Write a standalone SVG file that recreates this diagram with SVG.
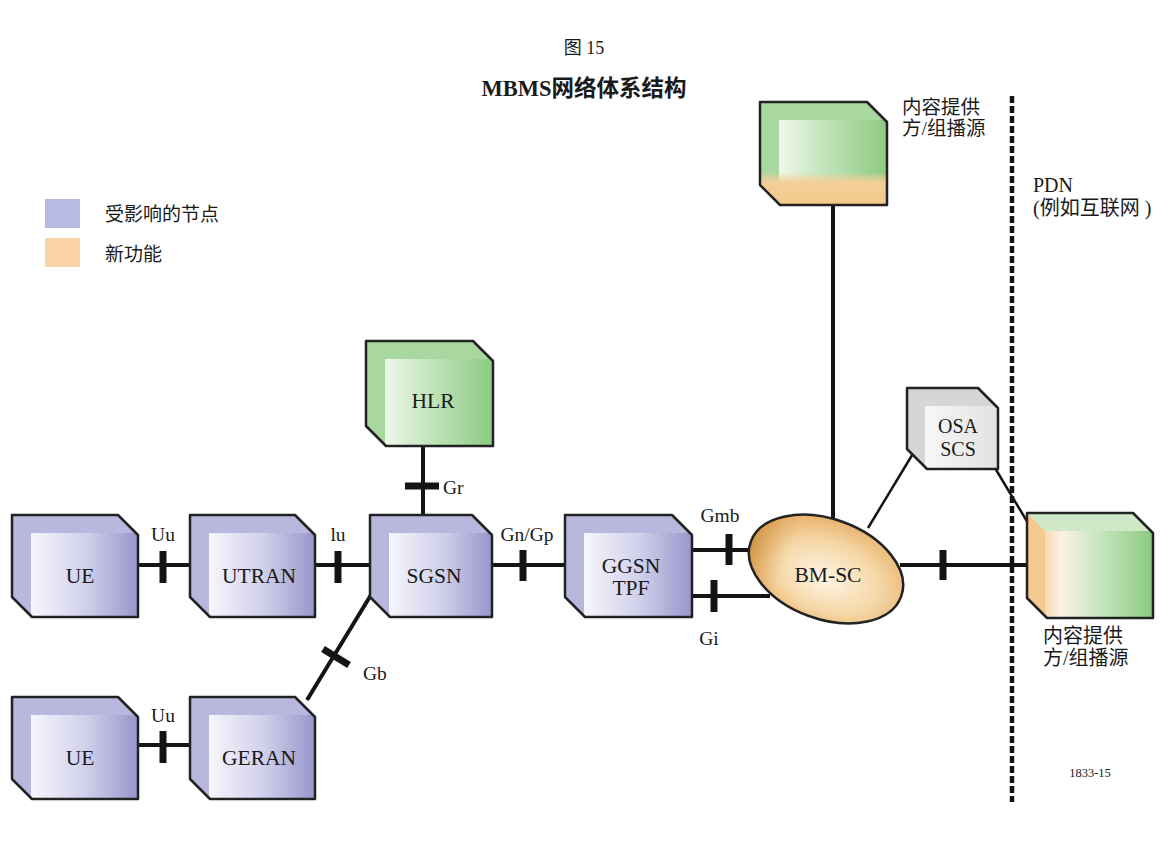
<svg xmlns="http://www.w3.org/2000/svg" width="1169" height="841" viewBox="0 0 1169 841">
<defs>
<style>
.t{font-family:"Liberation Serif","Noto Sans CJK SC",serif;fill:#1a1a1a}
.nl{font-size:21.5px;text-anchor:middle}
.il{font-size:19.5px}
.ol{fill:none;stroke:#222;stroke-width:2.5;stroke-linejoin:round}
.ln{stroke:#141414;stroke-width:4;fill:none}
.tk{stroke:#141414;stroke-width:7;fill:none}
.thin{stroke:#141414;stroke-width:2.5;fill:none}
</style>
<linearGradient id="gP" x1="0" y1="0" x2="1" y2="0">
<stop offset="0" stop-color="#f6f6fc"/><stop offset="0.5" stop-color="#d2d1ec"/><stop offset="1" stop-color="#9896cb"/>
</linearGradient>
<linearGradient id="gG" x1="0" y1="0" x2="1" y2="0">
<stop offset="0" stop-color="#eef8ea"/><stop offset="0.45" stop-color="#bfe3b7"/><stop offset="1" stop-color="#8cca82"/>
</linearGradient>
<linearGradient id="gR" x1="0" y1="0" x2="1" y2="0">
<stop offset="0" stop-color="#f6dcb2"/><stop offset="0.15" stop-color="#fbf2e2"/><stop offset="0.45" stop-color="#cde9c6"/><stop offset="1" stop-color="#8bca81"/>
</linearGradient>
<linearGradient id="gO" x1="0" y1="0" x2="0" y2="1">
<stop offset="0" stop-color="#f5cf98" stop-opacity="0"/><stop offset="0.3" stop-color="#f5cf98" stop-opacity="0.95"/><stop offset="1" stop-color="#f3c88c"/>
</linearGradient>
<linearGradient id="gS" x1="0" y1="0" x2="1" y2="0">
<stop offset="0" stop-color="#f7f7f7"/><stop offset="1" stop-color="#e2e2e2"/>
</linearGradient>
<radialGradient id="gB" cx="0.55" cy="0.55" r="0.6" fx="0.5" fy="0.6">
<stop offset="0" stop-color="#fdf4e6"/><stop offset="0.55" stop-color="#f6d8a8"/><stop offset="1" stop-color="#e6ad64"/>
</radialGradient>
<linearGradient id="gBL" x1="0" y1="0" x2="1" y2="0">
<stop offset="0" stop-color="#c88d3a" stop-opacity="0.8"/><stop offset="0.25" stop-color="#e2ad66" stop-opacity="0"/>
</linearGradient>
<clipPath id="cTop"><path d="M760 102H867L887 122V205H780L760 185Z"/></clipPath>
</defs>
<rect width="1169" height="841" fill="#fff"/>

<g id="title">
<text class="t" x="584" y="54" font-size="18" text-anchor="middle">图 15</text>
<text class="t" x="584" y="96" font-size="22.5" font-weight="bold" text-anchor="middle">MBMS网络体系结构</text>
</g>

<g id="legend">
<rect x="45" y="199" width="35" height="29" fill="#b9b9e6"/>
<rect x="45" y="238" width="35" height="29" fill="#f9d3a3"/>
<text class="t" x="105" y="221" font-size="19">受影响的节点</text>
<text class="t" x="105" y="261" font-size="19">新功能</text>
</g>

<g id="connectors">
<line class="ln" x1="138" y1="565" x2="202" y2="565"/>
<line class="tk" x1="163" y1="551" x2="163" y2="583"/>
<line class="ln" x1="315" y1="565" x2="382" y2="565"/>
<line class="tk" x1="338" y1="551" x2="338" y2="583"/>
<line class="ln" x1="492" y1="565" x2="577" y2="565"/>
<line class="tk" x1="523" y1="550" x2="523" y2="581"/>
<line class="ln" x1="692" y1="550" x2="768" y2="550"/>
<line class="tk" x1="729" y1="534" x2="729" y2="565"/>
<line class="ln" x1="692" y1="596" x2="770" y2="596"/>
<line class="tk" x1="714" y1="580" x2="714" y2="612"/>
<line class="ln" x1="900" y1="565" x2="1035" y2="565"/>
<line class="tk" x1="943" y1="550" x2="943" y2="580"/>
<line class="ln" x1="833" y1="205" x2="833" y2="525"/>
<line class="thin" x1="868" y1="528" x2="920" y2="442"/>
<line class="thin" x1="995" y1="468" x2="1040" y2="543"/>
<line class="ln" x1="423" y1="446" x2="423" y2="522"/>
<line class="tk" x1="405" y1="486" x2="439" y2="486"/>
<line class="ln" x1="307" y1="700" x2="377" y2="585"/>
<line class="tk" x1="323" y1="649" x2="349" y2="665"/>
<line class="ln" x1="138" y1="745" x2="202" y2="745"/>
<line class="tk" x1="163" y1="731" x2="163" y2="763"/>
<line x1="1012" y1="96" x2="1012" y2="802" stroke="#141414" stroke-width="4.5" stroke-dasharray="7 3"/>
</g>

<g id="labels">
<text class="t il" x="163" y="541" text-anchor="middle">Uu</text>
<text class="t il" x="338" y="541" text-anchor="middle">lu</text>
<text class="t il" x="527" y="541" text-anchor="middle">Gn/Gp</text>
<text class="t il" x="720" y="522" text-anchor="middle">Gmb</text>
<text class="t il" x="709" y="645" text-anchor="middle">Gi</text>
<text class="t il" x="363" y="680">Gb</text>
<text class="t il" x="443" y="494">Gr</text>
<text class="t il" x="163" y="722" text-anchor="middle">Uu</text>
<text class="t" x="1033" y="192" font-size="20">PDN</text>
<text class="t" x="1033" y="215" font-size="20">(例如互联网 )</text>
<text class="t" x="1090" y="777" font-size="12.5" text-anchor="middle">1833-15</text>
</g>

<g id="UE1">
<path d="M12 515H118L138 535V617H32L12 597Z" fill="#b8b7dd"/>
<rect x="31" y="533" width="107" height="84" fill="url(#gP)"/>
<path class="ol" d="M12 515H118L138 535V617H32L12 597Z"/>
<text class="t nl" x="80" y="583">UE</text>
</g>

<g id="UTRAN">
<path d="M190 515H295L315 535V617H210L190 597Z" fill="#b8b7dd"/>
<rect x="209" y="533" width="106" height="84" fill="url(#gP)"/>
<path class="ol" d="M190 515H295L315 535V617H210L190 597Z"/>
<text class="t nl" x="259" y="583">UTRAN</text>
</g>

<g id="SGSN">
<path d="M370 515H472L492 535V617H390L370 597Z" fill="#b8b7dd"/>
<rect x="389" y="533" width="103" height="84" fill="url(#gP)"/>
<path class="ol" d="M370 515H472L492 535V617H390L370 597Z"/>
<text class="t nl" x="434" y="583">SGSN</text>
</g>

<g id="GGSN">
<path d="M565 515H672L692 535V617H585L565 597Z" fill="#b8b7dd"/>
<rect x="584" y="533" width="108" height="84" fill="url(#gP)"/>
<path class="ol" d="M565 515H672L692 535V617H585L565 597Z"/>
<text class="t nl" x="631" y="573">GGSN</text>
<text class="t nl" x="631" y="595">TPF</text>
</g>

<g id="UE2">
<path d="M12 697H118L138 717V799H32L12 779Z" fill="#b8b7dd"/>
<rect x="31" y="715" width="107" height="84" fill="url(#gP)"/>
<path class="ol" d="M12 697H118L138 717V799H32L12 779Z"/>
<text class="t nl" x="80" y="765">UE</text>
</g>

<g id="GERAN">
<path d="M190 697H295L315 717V799H210L190 779Z" fill="#b8b7dd"/>
<rect x="209" y="715" width="106" height="84" fill="url(#gP)"/>
<path class="ol" d="M190 697H295L315 717V799H210L190 779Z"/>
<text class="t nl" x="259" y="765">GERAN</text>
</g>

<g id="HLR">
<path d="M366 341H473L493 361V446H386L366 426Z" fill="#a8d89f"/>
<rect x="385" y="359" width="108" height="87" fill="url(#gG)"/>
<path class="ol" d="M366 341H473L493 361V446H386L366 426Z"/>
<text class="t nl" x="433" y="408">HLR</text>
</g>

<g id="CP_top">
<path d="M760 102H867L887 122V205H780L760 185Z" fill="#a8d89f"/>
<rect x="779" y="120" width="108" height="85" fill="url(#gG)"/>
<rect x="760" y="172" width="127" height="33" fill="url(#gO)" clip-path="url(#cTop)"/>
<path class="ol" d="M760 102H867L887 122V205H780L760 185Z"/>
<text class="t" x="902" y="114" font-size="19.5">内容提供</text>
<text class="t" x="902" y="135" font-size="19.5">方/组播源</text>
</g>

<g id="BMSC">
<ellipse cx="826" cy="569" rx="80" ry="50" transform="rotate(20 826 569)" fill="url(#gB)"/>
<ellipse cx="826" cy="569" rx="80" ry="50" transform="rotate(20 826 569)" fill="url(#gBL)"/>
<ellipse cx="826" cy="569" rx="80" ry="50" transform="rotate(20 826 569)" class="ol"/>
<text class="t nl" x="828" y="582">BM-SC</text>
</g>

<g id="OSA">
<path d="M907 388H978L998 408V469H927L907 449Z" fill="#d6d6d6"/>
<rect x="925" y="406" width="73" height="63" fill="url(#gS)"/>
<path class="ol" d="M907 388H978L998 408V469H927L907 449Z"/>
<text class="t" x="958" y="433" font-size="20" text-anchor="middle">OSA</text>
<text class="t" x="958" y="456" font-size="20" text-anchor="middle">SCS</text>
</g>

<g id="CP_right">
<path d="M1027 513H1133L1153 533V618H1047L1027 598Z" fill="#cfe9c8"/>
<path d="M1027 513L1045 531V618H1047L1027 598Z" fill="#f4c88e"/>
<rect x="1045" y="531" width="108" height="87" fill="url(#gR)"/>
<path class="ol" d="M1027 513H1133L1153 533V618H1047L1027 598Z"/>
<text class="t" x="1043" y="643" font-size="20">内容提供</text>
<text class="t" x="1043" y="665" font-size="20">方/组播源</text>
</g>
</svg>
